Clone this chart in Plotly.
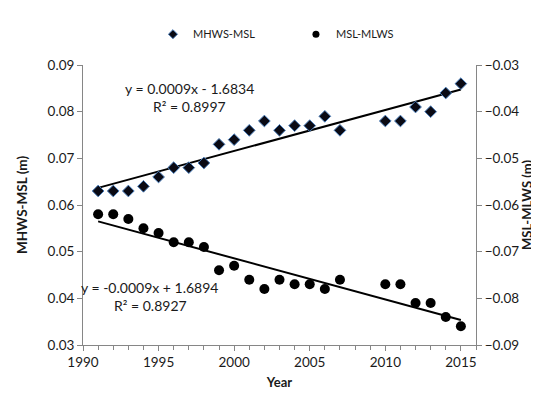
import numpy as np
import plotly.graph_objects as go

years = [1991, 1992, 1993, 1994, 1995, 1996, 1997, 1998, 1999, 2000, 2001, 2002, 2003,
         2004, 2005, 2006, 2007, 2010, 2011, 2012, 2013, 2014, 2015]
mhws_msl = [0.063, 0.063, 0.063, 0.064, 0.066, 0.068, 0.068, 0.069, 0.073, 0.074, 0.076, 0.078, 0.076,
            0.077, 0.077, 0.079, 0.076, 0.078, 0.078, 0.081, 0.080, 0.084, 0.086]
msl_mlws = [-0.062, -0.062, -0.063, -0.065, -0.066, -0.068, -0.068, -0.069, -0.074, -0.073, -0.076, -0.078, -0.076,
            -0.077, -0.077, -0.078, -0.076, -0.077, -0.077, -0.081, -0.081, -0.084, -0.086]
eq1 = "y = 0.0009x - 1.6834"
r2_1 = "R² = 0.8997"
eq2 = "y = -0.0009x + 1.6894"
r2_2 = "R² = 0.8927"

FONT = "Lato"
TXT = "#1a1a1a"
x = np.array(years, dtype=float)
p1 = np.polyfit(x, np.array(mhws_msl), 1)
p2 = np.polyfit(x, np.array(msl_mlws), 1)
xt = np.array([years[0], years[-1]], dtype=float)

diamond = dict(symbol="diamond", color="#0a0a14", line=dict(color="#4a7ebb", width=1))
circle = dict(symbol="circle", color="black")

fig = go.Figure()
fig.add_trace(go.Scatter(x=xt, y=np.polyval(p1, xt), mode="lines",
                         line=dict(color="black", width=2), showlegend=False, hoverinfo="skip"))
fig.add_trace(go.Scatter(x=xt, y=np.polyval(p2, xt), mode="lines", yaxis="y2",
                         line=dict(color="black", width=2), showlegend=False, hoverinfo="skip"))
fig.add_trace(go.Scatter(x=years, y=mhws_msl, mode="markers", name="MHWS-MSL", showlegend=False,
                         marker=dict(size=9, **diamond)))
fig.add_trace(go.Scatter(x=years, y=msl_mlws, mode="markers", name="MSL-MLWS", yaxis="y2",
                         showlegend=False, marker=dict(size=10, **circle)))
# legend entries with small symbols
fig.add_trace(go.Scatter(x=[None], y=[None], mode="markers", name="MHWS-MSL",
                         marker=dict(size=7, **diamond)))
fig.add_trace(go.Scatter(x=[None], y=[None], mode="markers", name="MSL-MLWS",
                         marker=dict(size=7, **circle)))

axis_common = dict(showgrid=False, showline=True, linecolor="#868686", linewidth=1,
                   ticks="outside", tickcolor="#868686", ticklen=5, zeroline=False,
                   automargin=False, tickfont=dict(family=FONT, size=13.5, color=TXT))

fig.update_layout(
    width=539, height=393,
    margin=dict(l=75, r=71, t=47, b=56),
    paper_bgcolor="white", plot_bgcolor="white",
    font=dict(family=FONT, size=14, color=TXT),
    xaxis=dict(range=[1990, 2016], tick0=1990, dtick=5, **axis_common,
               minor=dict(ticks="outside", dtick=1, ticklen=4, tickcolor="#868686"),
               title=dict(text="<b>Year</b>", font=dict(family=FONT, size=13), standoff=8)),
    yaxis=dict(range=[0.03, 0.09], dtick=0.01, tickformat=".2f", **axis_common,
               title=dict(text="<b>MHWS-MSL (m)</b>", font=dict(family=FONT, size=13.5), standoff=16)),
    yaxis2=dict(range=[-0.09, -0.03], dtick=0.01, tickformat=".2f", overlaying="y", side="right",
                **axis_common,
                title=dict(text="<b>MSL-MLWS (m)</b>", font=dict(family=FONT, size=13), standoff=2)),
    legend=dict(orientation="h", x=0.178, xanchor="left", y=1.11, yanchor="middle",
                font=dict(family=FONT, size=11, color=TXT), entrywidth=98, itemwidth=30,
                bgcolor="rgba(0,0,0,0)"),
    showlegend=True,
)

ann = [(eq1, 0.270, 0.917), (r2_1, 0.270, 0.852), (eq2, 0.170, 0.207), (r2_2, 0.173, 0.141)]
for t, ax_, ay_ in ann:
    fig.add_annotation(text=t, x=ax_, y=ay_, xref="paper", yref="paper", showarrow=False,
                       xanchor="center", yanchor="middle",
                       font=dict(family=FONT, size=14, color=TXT))

fig.write_html("out.html")
